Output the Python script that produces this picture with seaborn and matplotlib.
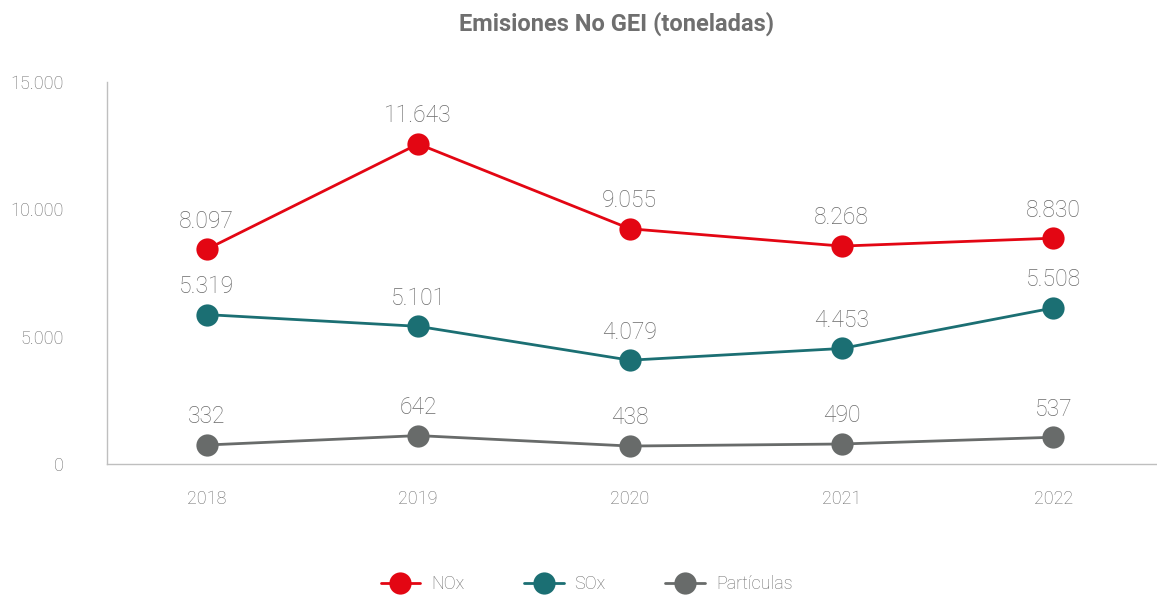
import pandas as pd
import numpy as np
import matplotlib
matplotlib.use('Agg')
import matplotlib.pyplot as plt
import matplotlib.ticker as mticker
import seaborn as sns

# Datos
years = ['2018', '2019', '2020', '2021', '2022']
series = ['NOx', 'SOx', 'Partículas']
# posiciones de los puntos tal como aparecen en el gráfico
nox_pos = [8420, 12560, 9230, 8550, 8860]
sox_pos = [5860, 5400, 4070, 4530, 6120]
part_pos = [740, 1110, 700, 780, 1045]
# etiquetas de datos
nox_lab = [8097, 11643, 9055, 8268, 8830]
sox_lab = [5319, 5101, 4079, 4453, 5508]
part_lab = [332, 642, 438, 490, 537]
colors = ['#e30613', '#1b6f73', '#686b6a']

df = pd.DataFrame({
    'year': years * 3,
    'valor': nox_pos + sox_pos + part_pos,
    'etiqueta': nox_lab + sox_lab + part_lab,
    'serie': [s for s in series for _ in years],
})
df['x'] = df['year'].map({y: i for i, y in enumerate(years)})

sns.set_style('white')
plt.rcParams['font.family'] = ['Roboto', 'DejaVu Sans']
txt_color = '#6b6b6b'

fig = plt.figure(figsize=(11.57, 5.97), dpi=100)
ax = fig.add_axes([0.0925, 0.223, 0.9075, 0.64])

sns.lineplot(data=df, x='x', y='valor', hue='serie', hue_order=series,
             palette=colors, marker='o', markersize=16, markeredgewidth=0,
             linewidth=2, ax=ax, legend=True)

def fmt(v):
    return f'{v:,}'.replace(',', '.')

for _, r in df.iterrows():
    ax.annotate(fmt(r['etiqueta']), (r['x'], r['valor']), xytext=(0, 12),
                textcoords='offset points', ha='center', va='bottom',
                fontsize=16.5, fontweight='light', color=txt_color)

ax.set_xlim(-0.47, 4.49)
ax.set_ylim(0, 15000)
ax.set_yticks([0, 5000, 10000, 15000])
ax.yaxis.set_major_formatter(mticker.FuncFormatter(lambda v, p: fmt(int(v))))
ax.set_xticks(range(len(years)))
ax.set_xticklabels(years)
ax.tick_params(axis='both', colors=txt_color, labelsize=13, length=0)
ax.tick_params(axis='x', pad=19)
ax.tick_params(axis='y', pad=31)
for lab in ax.get_xticklabels() + ax.get_yticklabels():
    lab.set_fontweight('light')
ax.set_xlabel('')
ax.set_ylabel('')
for s in ['top', 'right']:
    ax.spines[s].set_visible(False)
for s in ['left', 'bottom']:
    ax.spines[s].set_color('#bfbfbf')
    ax.spines[s].set_linewidth(1)

fig.suptitle('Emisiones No GEI (toneladas)', x=0.533, y=0.98,
             fontsize=17, fontweight='bold', color='#6f6f6f')

handles, labels = ax.get_legend_handles_labels()
leg = ax.legend(handles, labels, loc='center', bbox_to_anchor=(0.507, 0.022),
                bbox_transform=fig.transFigure, ncol=3, frameon=False,
                fontsize=13, labelcolor=txt_color, handlelength=2.2,
                columnspacing=3.3, handletextpad=0.6, markerscale=1.0)
for t in leg.get_texts():
    t.set_fontweight('light')

fig.savefig('out.png', dpi=100)
